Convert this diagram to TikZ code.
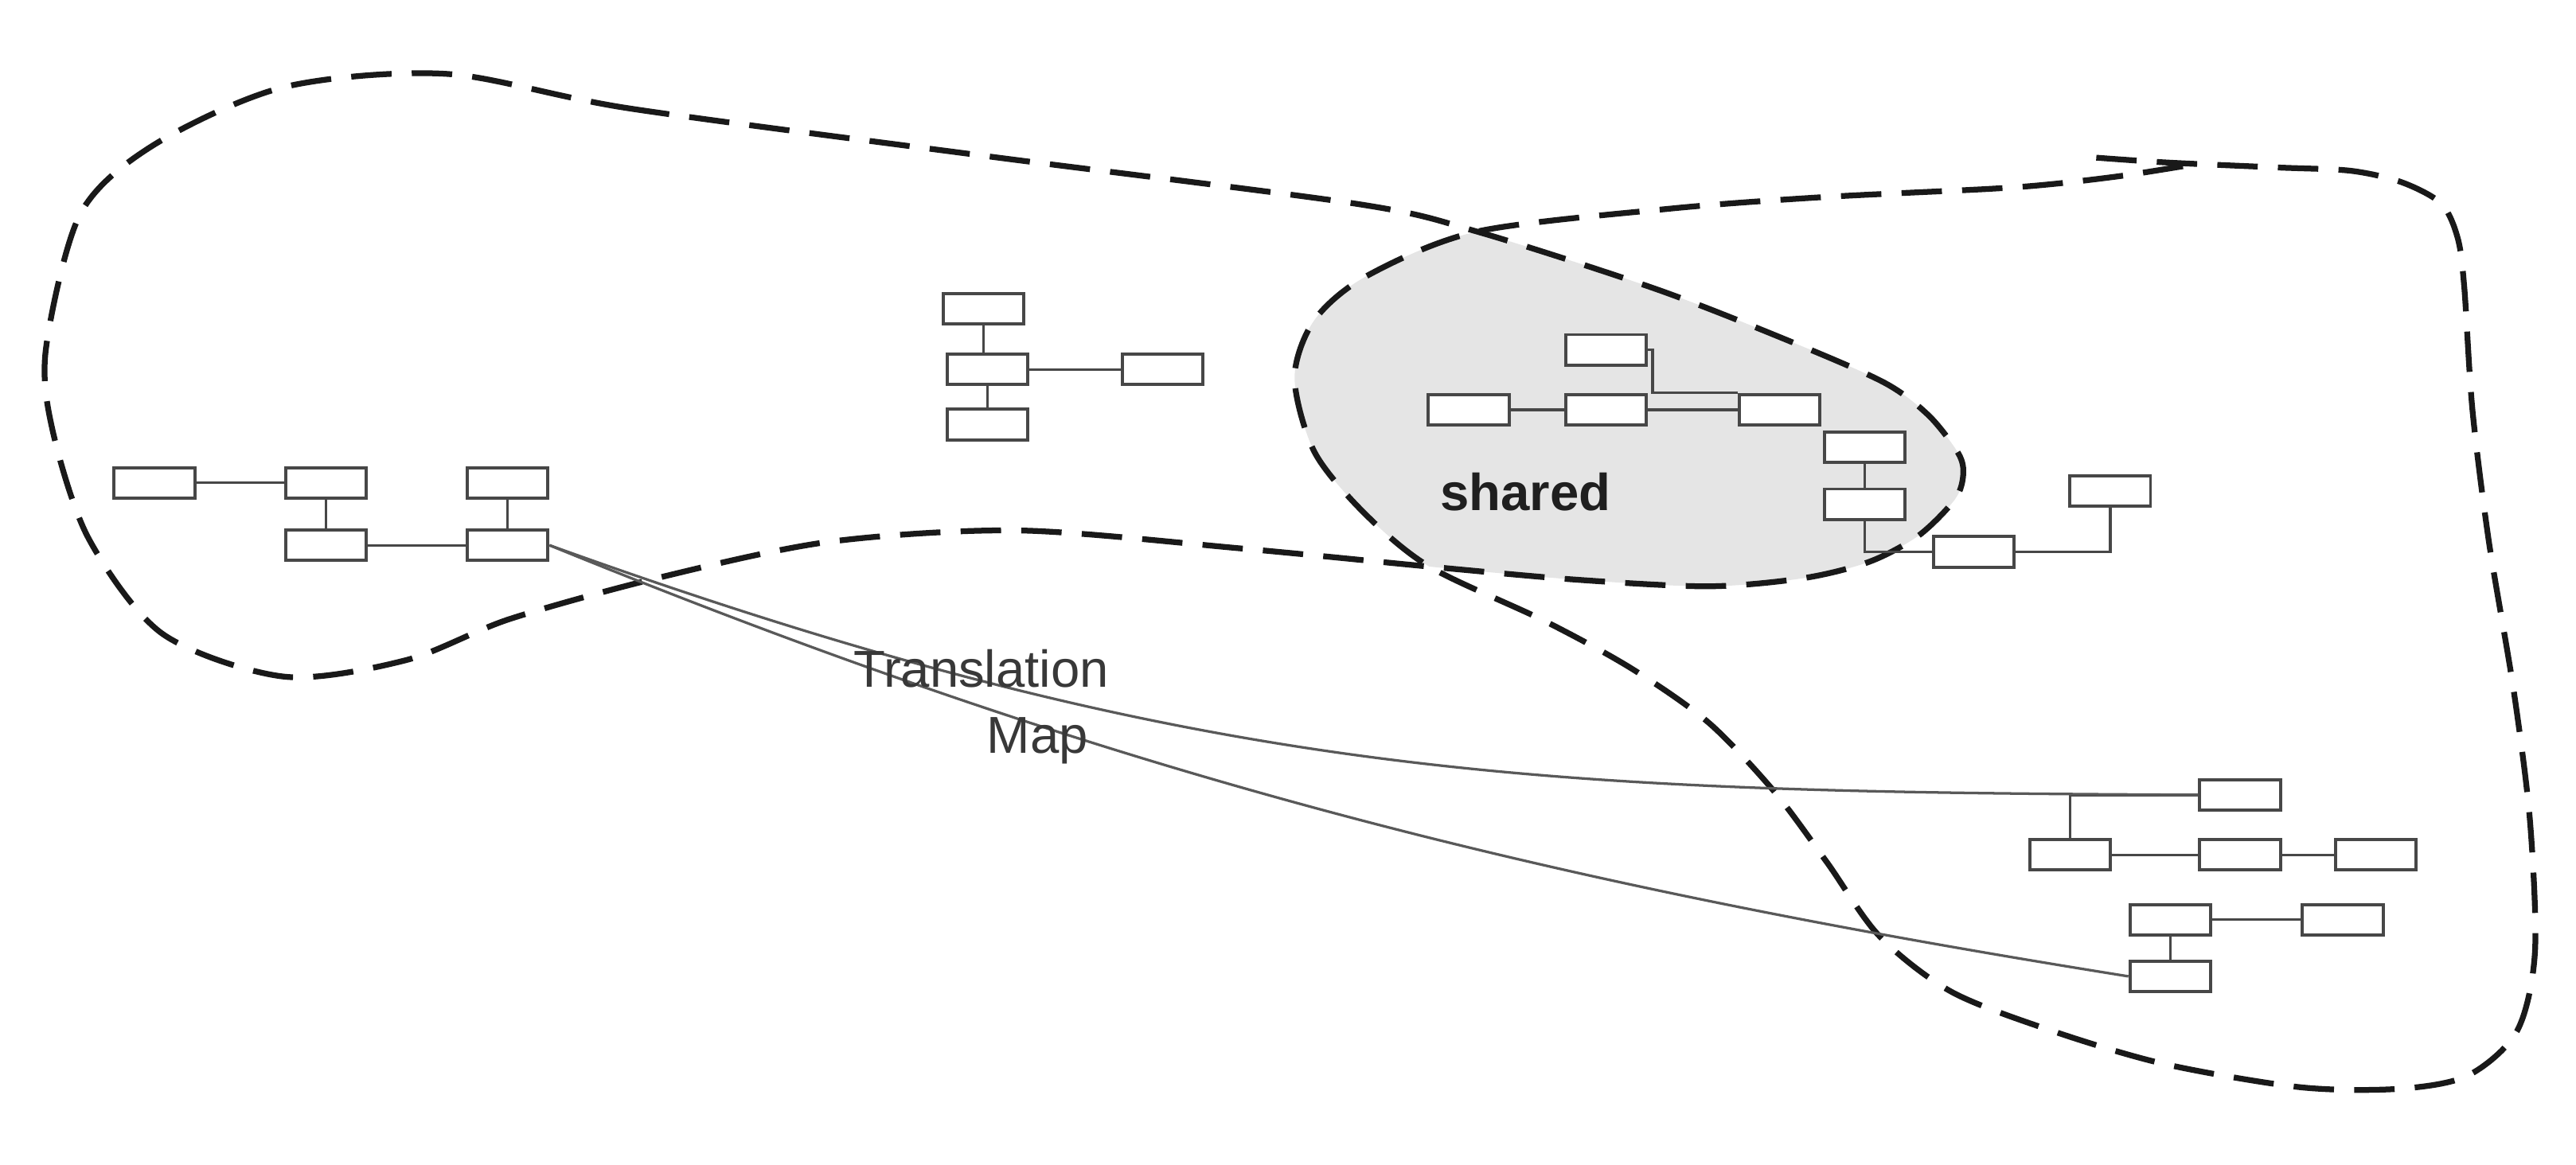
\documentclass[tikz,border=0pt]{standalone}
\usepackage{fontspec}
\setmainfont{Liberation Sans}
\usepackage{tikz}

\begin{document}
\begin{tikzpicture}[
    x=0.1mm, y=-0.1mm,
    % Styles
    box/.style={draw=black!72, line width=0.55pt, fill=white, inner sep=0pt,
                minimum width=4.9mm, minimum height=1.85mm},
    link/.style={draw=black!72, line width=0.45pt},
    mapline/.style={draw=black!65, line width=0.45pt},
    region/.style={draw=black!90, line width=1pt, dash pattern=on 7pt off 3.5pt},
    sharedfill/.style={fill=black!10},
    lbl/.style={font=\fontsize{9}{11.4}\selectfont, text=black!78, inner sep=0pt}
  ]
    \useasboundingbox (0,0) rectangle (1568,709);

    % === Regions (dashed outlines) ===
    \path[save path=\leftregion] plot[smooth cycle] coordinates {
      (272,45) (383,66) (600,95) (825,124) (899,141) (1008,176) (1090,208)
      (1147,233) (1174,253) (1192,276) (1195,289) (1190,304) (1168,326)
      (1138,342) (1098,352) (1040,357) (960,353) (870,345) (756,334) (620,323)
      (504,330) (400,352) (310,377) (247,402) (173,412) (99,386) (54,328)
      (32,262) (28,212) (49,130) (94,88) (173,53)};
    \path[save path=\rightregion] plot[smooth] coordinates {
      (1276,96) (1320,99) (1387,102) (1431,104) (1462,111) (1486,124) (1496,145)
      (1500,175) (1505,250) (1515,330) (1530,420) (1540,500) (1543,580)
      (1532,628) (1502,655) (1460,663) (1400,662) (1318,648) (1250,628)
      (1188,604) (1144,570) (1112,525) (1080,482) (1040,440) (993,407) (940,378)
      (870,345) (830,312) (800,275) (788,230) (800,195) (832,168) (899,141)
      (1017,127) (1110,120) (1211,115) (1250,112) (1292,107) (1330,101)};

    % shared part = overlap of both regions
    \begin{scope}
      \clip[use path=\leftregion];
      \fill[sharedfill, use path=\rightregion];
    \end{scope}
    \draw[region, use path=\leftregion];
    \draw[region, use path=\rightregion];

    % === Left graph ===
    \node[box] (l1) at (94,294) {};
    \node[box] (l2) at (198.5,294) {};
    \node[box] (l3) at (198.5,332) {};
    \node[box] (l4) at (309,294) {};
    \node[box] (l5) at (309,332) {};
    \draw[link] (l1) -- (l2);
    \draw[link] (l2) -- (l3);
    \draw[link] (l3) -- (l5);
    \draw[link] (l4) -- (l5);

    % === Middle graph ===
    \node[box] (m1) at (598.5,188) {};
    \node[box] (m2) at (601,225) {};
    \node[box] (m3) at (601,258.5) {};
    \node[box] (m4) at (707.5,225) {};
    \draw[link] (m1.south) -- (m1.south |- m2.north);
    \draw[link] (m2) -- (m3);
    \draw[link] (m2) -- (m4);

    % === Shared graph ===
    \node[box] (s1) at (977.5,213) {};
    \node[box] (s2) at (894,249.5) {};
    \node[box] (s3) at (977.5,249.5) {};
    \node[box] (s4) at (1083,249.5) {};
    \node[box] (s5) at (1135,272.5) {};
    \node[box] (s6) at (1135,307) {};
    \node[box] (s7) at (1201.5,336) {};
    \node[box] (s8) at (1284.5,299) {};
    \draw[link] (s2) -- (s3);
    \draw[link] (s3) -- (s4);
    \draw[link] (s1.east) -- ++(3,0) |- (s4.north west);
    \draw[link] (s5) -- (s6);
    \draw[link] (s6.south) |- (s7.west);
    \draw[link] (s7.east) -| (s8.south);

    % === Right graph ===
    \node[box] (r1) at (1363.5,484) {};
    \node[box] (r2) at (1260,520.5) {};
    \node[box] (r3) at (1363.5,520.5) {};
    \node[box] (r4) at (1446,520.5) {};
    \node[box] (r5) at (1321,560) {};
    \node[box] (r6) at (1426,560) {};
    \node[box] (r7) at (1321,594.5) {};
    \draw[link] (r1.west) -| (r2.north);
    \draw[link] (r2) -- (r3);
    \draw[link] (r3) -- (r4);
    \draw[link] (r5) -- (r6);
    \draw[link] (r5) -- (r7);

    % === Translation map ===
    \draw[mapline] (l5.east) .. controls +(400,144) and +(-400,-2) .. (r1.west);
    \draw[mapline] (l5.east) .. controls +(350,143) and +(-350,-56) .. (r7.west);

    \node[lbl, anchor=north west, align=left] (maplbl) at (519,395) {Translation\\\hspace*{8.1mm}Map};
    \node[lbl, font=\fontsize{9}{11}\selectfont\bfseries, text=black!88, anchor=base west] (sharedlbl) at (876,311) {shared};

  \end{tikzpicture}
\end{document}
